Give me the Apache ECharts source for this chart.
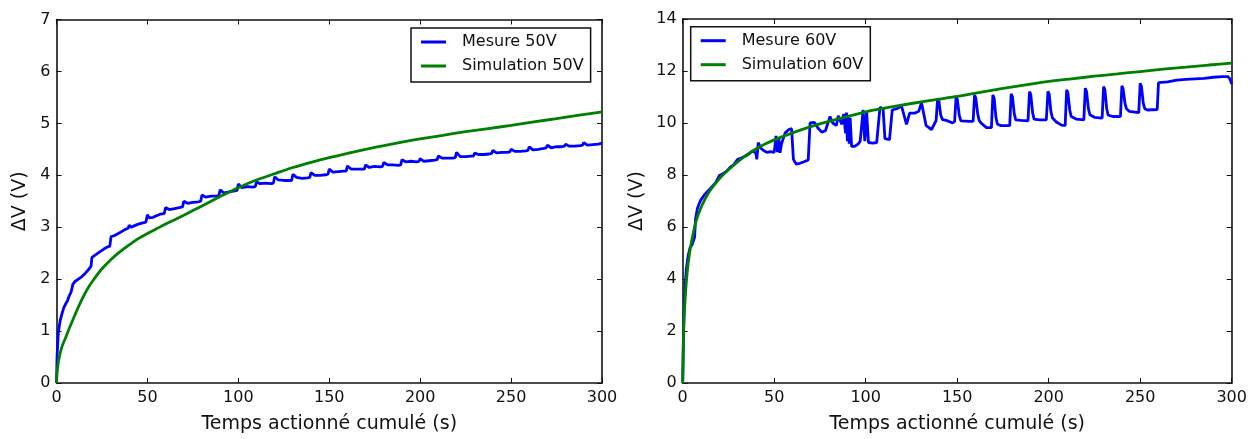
<!DOCTYPE html>
<html>
<head>
<meta charset="utf-8">
<script src="https://cdn.jsdelivr.net/npm/echarts@6/dist/echarts.min.js"></script>
<style>
html,body{margin:0;padding:0;background:#fff;}
#c{width:1257px;height:439px;}
</style>
</head>
<body>
<div id="c"></div>
<script>
// ---- Left panel (50V) ----
const tMes50 = [0,0.3,1,2,3,4,5,6,7,8,9,10,12,14,16,18,19,19.5,22,24,26,28,29.3,30,32,34,36,38,39.4,40,41,43,45,47,49.2,50,51,53,55,57,59.2,60,62,65,68,69.3,70,72,75,78,79.3,80,82,85,88,89.3,90,92,95,98,99.3,100,102,105,108,109.3,110,112,115,118,119.3,120,122,125,128,129.3,130,132,135,138,139.3,140,142,145,148,149.3,150,152,155,158,159.3,160,162,165,168,169.3,170,172,175,178,179.3,180,182,185,188,189.3,190,192,195,198,199.3,200,202,205,208,209.3,210,212,215,218,219.3,220,222,225,228,229.3,230,232,235,238,239.3,240,242,245,248,249.3,250,252,255,258,259.3,260,262,265,268,269.3,270,272,275,278,279.3,280,282,285,288,289.3,290,292,295,298,300];
const mesure50 = [0,0.5,0.97,1.2,1.33,1.45,1.52,1.58,1.68,1.75,1.9,1.95,2.0,2.05,2.12,2.2,2.25,2.42,2.48,2.53,2.58,2.62,2.63,2.82,2.84,2.88,2.92,2.96,2.98,3.04,3.0,3.03,3.06,3.08,3.1,3.24,3.18,3.19,3.22,3.25,3.26,3.38,3.34,3.36,3.38,3.39,3.5,3.46,3.48,3.49,3.5,3.62,3.58,3.6,3.6,3.61,3.72,3.66,3.68,3.7,3.71,3.83,3.76,3.78,3.77,3.78,3.87,3.84,3.85,3.84,3.85,3.97,3.91,3.9,3.9,3.9,4.02,3.96,3.94,3.95,3.96,4.05,4.0,4.0,4.01,4.02,4.12,4.06,4.07,4.08,4.08,4.18,4.12,4.12,4.12,4.12,4.2,4.15,4.17,4.16,4.17,4.25,4.2,4.2,4.19,4.2,4.3,4.26,4.27,4.26,4.27,4.32,4.27,4.28,4.29,4.3,4.37,4.33,4.33,4.33,4.34,4.44,4.36,4.36,4.37,4.37,4.43,4.4,4.4,4.41,4.42,4.48,4.43,4.44,4.44,4.45,4.5,4.46,4.46,4.47,4.48,4.55,4.49,4.5,4.52,4.53,4.58,4.53,4.55,4.55,4.56,4.6,4.56,4.56,4.57,4.58,4.63,4.58,4.59,4.6,4.62];
const tSim50 = [0,0.3,1,2,3,4,5,7,10,12.5,15,17.5,20,25,30,35,40,45,50,55,60,70,80,90,100,110,120,130,140,150,160,170,180,190,200,212.5,225,237.5,250,262.5,275,287.5,300];
const sim50 = [0,0.2,0.4,0.57,0.7,0.79,0.87,1.05,1.3,1.5,1.68,1.84,1.97,2.2,2.38,2.53,2.66,2.78,2.88,2.97,3.06,3.23,3.41,3.59,3.76,3.91,4.03,4.15,4.25,4.34,4.42,4.5,4.57,4.64,4.7,4.77,4.84,4.9,4.96,5.03,5.09,5.16,5.22];

// ---- Right panel (60V) ----
const tMes60 = [0,0.5,1,1.5,2,3,4,5,6,6.5,7,8,9,10,12,14,16,18,20,22,24,26,28,30,32,34,36,38,40,40.5,41.3,42.5,44,46,48,50,51,51.8,52.5,53.2,54,56,58,59.5,60.5,62,64,66,68.6,69.6,72,74,76,78,80.5,82,84,85,86,87,88,89,89.5,90,90.5,91,91.5,92.3,94,96,97,98.6,99.5,100.5,101.5,104,106,107.8,109.5,110.5,113,114.5,117,119.6,122.3,124,127,129,130.5,133,136,138.5,139.3,140,141,142,144,147.5,148.6,149.4,150.1,151.1,152,157,158.7,159.5,160.2,161.2,162,163,166,168.7,169.5,170.2,171.2,172,174,178.7,179.5,180.2,181.2,182,185,188.7,189.5,190.2,191.2,192,195,198.7,199.6,200.3,201.2,202,204,207,209,209.8,210.5,211.5,212.3,215,219.2,220,220.7,221.7,222.5,225,229.2,230,230.7,231.7,232.5,235,239.2,240,240.7,241.7,242.5,244,249.2,250,250.7,251.7,252.5,254,259.3,260,265,270,275,280,285,290,295,298,299,300];
const mesure60 = [0,2.0,3.2,3.9,4.4,4.9,5.2,5.3,5.35,5.6,6.3,6.7,6.9,7.05,7.25,7.4,7.55,7.7,7.98,8.05,8.15,8.3,8.4,8.6,8.65,8.72,8.8,8.92,8.85,8.6,9.25,9.05,8.95,8.87,8.9,8.87,9.5,8.88,9.45,8.85,9.2,9.62,9.75,9.78,8.6,8.42,8.45,8.5,8.58,10.0,10.02,9.8,9.65,9.7,10.25,10.0,9.9,10.28,10.1,9.95,10.35,9.6,10.4,9.3,10.3,9.2,10.2,9.1,9.1,9.2,9.3,10.5,9.3,10.45,9.25,9.23,9.25,10.6,10.55,9.4,9.36,10.5,10.55,10.65,9.95,10.38,10.38,10.45,10.78,9.9,9.75,10.1,10.95,10.85,10.3,10.13,10.1,10.0,10.06,11.02,10.9,10.3,10.08,10.06,10.06,11.08,10.95,10.35,10.1,10.0,9.82,9.82,11.08,10.95,10.2,9.95,9.9,9.9,11.12,11.0,10.35,10.12,10.1,10.08,11.21,11.1,10.4,10.15,10.12,10.12,11.22,11.1,10.45,10.2,10.05,9.92,9.9,11.28,11.15,10.5,10.25,10.15,10.12,11.34,11.2,10.55,10.32,10.22,10.19,11.4,11.28,10.55,10.3,10.25,10.25,11.43,11.3,10.75,10.55,10.45,10.4,11.53,11.4,10.75,10.55,10.5,10.52,11.55,11.58,11.65,11.68,11.7,11.72,11.76,11.78,11.78,11.7,11.5];
const tSim60 = [0,0.3,0.7,1.3,2,3,4,5,7,10,14,20,25,30,35,40,45,50,60,70,80,90,100,112.5,125,137.5,150,162.5,175,187.5,200,212.5,225,237.5,250,262.5,275,287.5,300];
const sim60 = [0,1.5,2.5,3.2,3.9,4.6,5.1,5.5,6.15,6.75,7.3,7.85,8.2,8.5,8.77,9.0,9.19,9.35,9.62,9.86,10.06,10.25,10.43,10.6,10.75,10.89,11.02,11.18,11.33,11.47,11.6,11.7,11.8,11.89,11.98,12.07,12.15,12.23,12.3];

// Axis settings / labels
const xTicks = {min: 0, max: 300, interval: 50};
const yLeft = {min: 0, max: 7, interval: 1};
const yRight = {min: 0, max: 14, interval: 2};
const xTitle = 'Temps actionné cumulé (s)';
const yTitle = 'ΔV (V)';
const names = ['Mesure 50V', 'Simulation 50V', 'Mesure 60V', 'Simulation 60V'];

const pair = (ts, vs) => ts.map((t, i) => [t, vs[i]]);
const FONT = 'DejaVu Sans';
const BLUE = '#0000ff', GREEN = '#008000';

function mkX(gi, pos, showLabel) {
  return Object.assign({
    type: 'value', gridIndex: gi, position: pos,
    axisLine: {show: true, onZero: false, lineStyle: {color: '#111', width: 1.6}},
    axisTick: {show: true, inside: true, length: 5, lineStyle: {color: '#111', width: 1}},
    axisLabel: {show: showLabel, color: '#111', fontFamily: FONT, fontSize: 16, margin: 7},
    splitLine: {show: false},
    name: showLabel ? xTitle : '', nameLocation: 'middle', nameGap: 32,
    nameTextStyle: {color: '#111', fontFamily: FONT, fontSize: 19}
  }, xTicks);
}
function mkY(gi, pos, showLabel, rng, gap) {
  return Object.assign({
    type: 'value', gridIndex: gi, position: pos,
    axisLine: {show: true, onZero: false, lineStyle: {color: '#111', width: 1.6}},
    axisTick: {show: true, inside: true, length: 5, lineStyle: {color: '#111', width: 1}},
    axisLabel: {show: showLabel, color: '#111', fontFamily: FONT, fontSize: 16, margin: 6},
    splitLine: {show: false},
    name: showLabel ? yTitle : '', nameLocation: 'middle', nameGap: gap,
    nameTextStyle: {color: '#111', fontFamily: FONT, fontSize: 19}
  }, rng);
}
function mkLegend(left, top, data) {
  return {
    left: left, top: top, orient: 'vertical', data: data,
    backgroundColor: '#fff', borderColor: '#111', borderWidth: 1.5, borderRadius: 0,
    padding: [6, 7, 8, 10], itemGap: 8, itemWidth: 25, itemHeight: 3, icon: 'rect',
    textStyle: {color: '#111', fontFamily: FONT, fontSize: 16, padding: [0, 0, 0, 11]}
  };
}
function mkLine(name, xi, data, color, smooth) {
  return {name: name, type: 'line', xAxisIndex: xi, yAxisIndex: xi, data: data,
    smooth: smooth, showSymbol: false, symbol: 'none',
    lineStyle: {color: color, width: 2.8}, itemStyle: {color: color}};
}

const chart = echarts.init(document.getElementById('c'), null, {renderer: 'canvas'});
chart.setOption({
  animation: false,
  backgroundColor: '#fff',
  grid: [
    {left: 56.5, top: 19.5, width: 545.5, height: 364.5},
    {left: 682.7, top: 19, width: 549, height: 365.3}
  ],
  xAxis: [mkX(0, 'bottom', true), mkX(0, 'top', false), mkX(1, 'bottom', true), mkX(1, 'top', false)],
  yAxis: [mkY(0, 'left', true, yLeft, 27), mkY(0, 'right', false, yLeft, 0), mkY(1, 'left', true, yRight, 36), mkY(1, 'right', false, yRight, 0)],
  legend: [mkLegend(411, 28, [names[0], names[1]]), mkLegend(690.7, 26.7, [names[2], names[3]])],
  series: [
    mkLine(names[0], 0, pair(tMes50, mesure50), BLUE, false),
    mkLine(names[1], 0, pair(tSim50, sim50), GREEN, 0.2),
    mkLine(names[2], 2, pair(tMes60, mesure60), BLUE, false),
    mkLine(names[3], 2, pair(tSim60, sim60), GREEN, 0.2)
  ]
});
</script>
</body>
</html>
